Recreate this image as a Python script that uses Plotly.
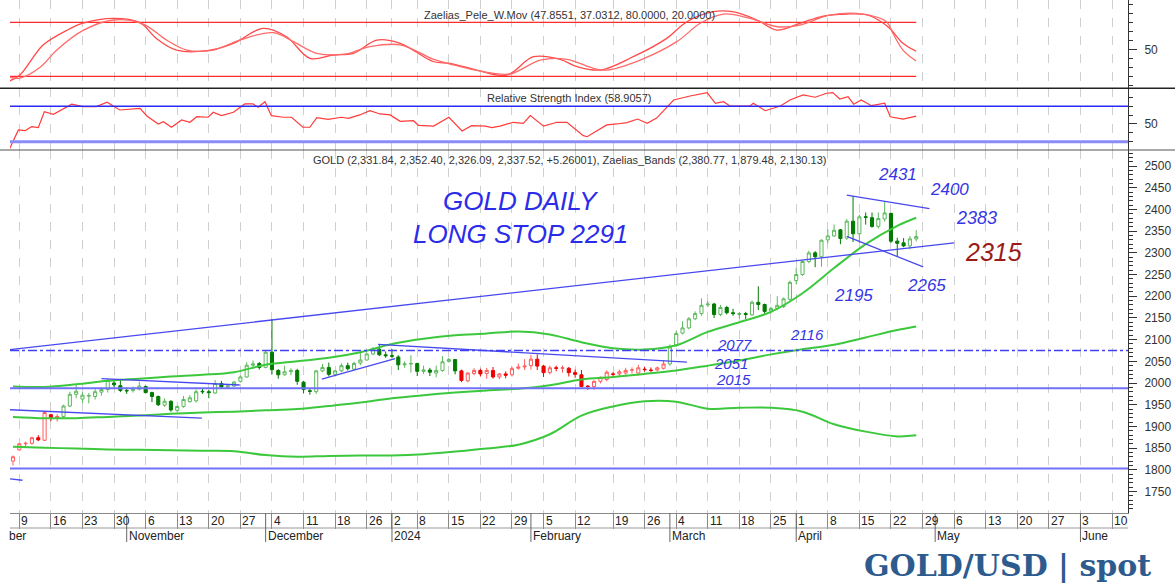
import plotly.graph_objects as go

# ---------------- data ----------------
# daily candles (trading-day index 0 = 6 Oct 2023 ... 143 = 26 Apr 2024)
opens = [1820,1846,1860,1861,1874,1868,1927,1920,1923,1947,1974,1963,1970,1969,1979,1985,2000,1994,1983,1983,
         1986,1992,1978,1969,1949,1958,1937,1946,1957,1959,1981,1980,1977,1999,1991,1993,2004,2014,2041,2045,
         2036,2071,2029,2019,2026,2029,2002,1982,1980,2028,2036,2020,2028,2040,2032,2046,2053,2067,2078,2065,
         2063,2060,2042,2044,2045,2027,2030,2023,2029,2050,2054,2028,2005,2022,2029,2022,2029,2014,2021,2019,
         2034,2037,2040,2055,2039,2024,2035,2034,2034,2024,2019,1993,1992,2004,2008,2021,2021,2023,2030,2023,
         2032,2030,2030,2034,2044,2087,2115,2127,2148,2160,2180,2182,2158,2174,2162,2158,2160,2157,2186,2181,
         2166,2172,2176,2193,2236,2250,2280,2300,2291,2330,2339,2353,2334,2373,2344,2383,2381,2361,2378,2391,
         2327,2323,2316,2331.84]
highs = [1833,1862,1865,1876,1880,1934,1929,1928,1950,1980,1997,1979,1977,1989,1990,2009,2009,2007,1990,1992,
         2003,1994,1980,1971,1965,1960,1948,1970,1972,1985,1987,1984,2007,2005,1997,2005,2018,2048,2052,2048,
         2075,2148,2032,2040,2034,2033,2005,1988,2030,2044,2047,2030,2045,2047,2049,2070,2070,2083,2088,2073,
         2078,2064,2050,2064,2047,2040,2035,2040,2062,2058,2055,2031,2025,2034,2033,2035,2037,2023,2027,2038,
         2045,2055,2065,2066,2042,2040,2040,2040,2037,2031,2030,1995,2006,2015,2029,2025,2031,2035,2036,2042,
         2037,2036,2038,2052,2089,2120,2142,2152,2165,2195,2189,2185,2180,2178,2171,2164,2164,2190,2223,2183,
         2176,2200,2197,2236,2266,2283,2305,2304,2331,2354,2365,2355,2378,2431,2388,2393,2393,2393,2418,2392,
         2335,2334,2339,2352.40]
lows = [1810,1844,1854,1858,1866,1867,1912,1911,1920,1945,1965,1954,1953,1962,1971,1978,1990,1979,1975,1978,
        1983,1976,1956,1947,1945,1934,1932,1943,1955,1955,1975,1965,1975,1988,1989,1991,2001,2012,2035,2031,
        2034,2020,2010,2017,2018,1996,1976,1973,1975,2025,2015,2015,2025,2029,2029,2041,2052,2064,2062,2058,
        2057,2030,2035,2024,2016,2021,2016,2013,2026,2047,2020,2002,2002,2018,2015,2010,2010,2009,2011,2015,
        2031,2030,2031,2030,2014,2020,2027,2024,2015,2012,1990,1984,1985,1999,2004,2014,2016,2019,2022,2017,
        2026,2025,2027,2031,2040,2083,2112,2124,2145,2155,2175,2150,2154,2158,2155,2149,2147,2155,2168,2157,
        2160,2168,2173,2190,2228,2247,2276,2267,2268,2322,2337,2320,2330,2325,2323,2365,2358,2356,2372,2323,
        2291,2313,2308,2326.09]
closes = [1830,1860,1861,1874,1869,1932,1920,1923,1947,1974,1981,1972,1971,1980,1985,2006,1996,1983,1982,1985,
          1993,1978,1969,1950,1958,1938,1946,1962,1966,1980,1980,1978,1999,1991,1993,2002,2014,2041,2044,2036,
          2071,2031,2019,2026,2029,2004,1985,1981,2028,2036,2020,2028,2040,2033,2045,2053,2067,2078,2065,2063,
          2062,2042,2044,2045,2027,2030,2025,2029,2049,2054,2028,2006,2023,2029,2021,2029,2014,2021,2018,2033,
          2037,2039,2055,2039,2024,2035,2034,2035,2024,2020,1992,1992,2004,2013,2025,2020,2026,2029,2030,2035,
          2031,2029,2035,2044,2083,2114,2127,2148,2160,2179,2182,2158,2174,2162,2160,2160,2158,2186,2181,2165,
          2172,2179,2194,2232,2250,2280,2300,2291,2329,2339,2352,2333,2373,2344,2383,2382,2361,2379,2392,2327,
          2322,2316,2332.26,2337.52]
# colour regime of each candle: 'r' = red (bearish regime), 'g' = green
regime = "rrrrrrrr" + "g" * 63 + "r" * 33 + "g" * 40

# Zaelias bands (sampled every few days)
band_idx = [0,5,10,15,20,25,30,35,40,45,50,55,60,65,70,75,80,85,90,95,100,105,110,115,120,125,130,135,140,143]
band_upper = [1992,1991,1997,2005,2010,2015,2019,2025,2042,2050,2058,2071,2090,2102,2110,2114,2119,2112,2094,2080,
              2077,2087,2118,2140,2164,2207,2265,2320,2362,2380.77]
band_mid = [1922,1919,1919,1922,1925,1929,1932,1934,1937,1940,1947,1955,1965,1972,1978,1983,1987,1995,2008,2014,
            2021,2029,2040,2052,2066,2078,2088,2105,2122,2130.13]
band_lower = [1853,1851,1849,1847,1846,1845,1844,1843,1834,1830,1832,1833,1833,1836,1842,1849,1858,1882,1925,1946,
              1958,1957,1941,1943,1943,1934,1905,1888,1877,1879.48]

# Zaelias_Pele_W.Mov (two lines)
wmov1_idx = [-0.5,1.1,4.8,8.5,11.1,15.9,20.1,22.7,25.9,30.7,34.9,39.6,43.3,47,50.7,53.9,57.6,61.3,66.6,69.2,73.4,
             78.2,82.4,86.6,89.3,93,98.2,103.5,106.7,110.9,114.1,117.8,120.9,124.6,128.3,132,135.1,137.2,138.8,140.9,143]
wmov1 = [15,21.5,55,71,79,84.4,79.6,62,49,48.5,56.7,73.3,64,40,43.7,45.6,60.3,56.7,36.2,34.4,27,
         21.4,41.8,38.9,30.7,27,41.8,62.2,80.7,91.8,91.5,82.6,71.4,78.9,87,89.2,88.5,81.8,73.3,56.7,47.8551]
wmov2_idx = [-0.5,1.1,4.3,6.9,11.1,15.9,20.6,24.3,27.5,31.7,35.9,41.2,44.4,48.1,52.8,56.5,61.3,66.6,69.2,74.5,78.7,
             83.5,87.7,91.9,94,99.3,105.1,108.8,112.5,116.7,121,124.6,129.3,134.6,138.3,139.3,140.9,143]
wmov2 = [19,18,30,49,71,82.6,78.1,60.3,49.2,49.2,60.3,68.5,58.5,45.6,45,52.9,55,38.9,33.7,25.1,22.6,
         38.1,38.9,28.9,27,38.1,58.5,78.9,89.2,84.4,75.1,77,88.1,89.2,80.7,67.8,49.2,37.0312]

# Relative Strength Index
rsi_idx = [-0.5,0.85,1.9,2.95,4,4.96,6.4,9.3,11.1,13.2,14.9,16.9,20.1,21.2,23,23.8,25.1,26.7,28,29.1,30.9,31.7,33,
           34.9,36.7,38,38.8,39.9,40.9,42.8,44.1,45.9,47,48.1,49.9,52,53.1,54.9,56.5,58.1,59.7,61.3,63.4,64.2,66.6,
           69,71.1,72.6,74.8,75.8,77.1,79.2,80.8,81.9,84,86.1,87.7,90.3,90.9,94,95.6,97.2,98.9,100.4,101.9,103.5,
           104.6,107.2,109.9,111.2,112.5,113.5,116.7,117.2,119.1,121.5,123,125.1,127,128.8,129.8,130.9,132.2,133.1,
           134.3,135.9,138,138.9,140.9,143]
rsi = [22.5,43.2,42.4,47,45.8,63.9,61,72.3,69.6,69.6,74.5,65.8,67.7,59,50,52.6,46.3,54.5,51.9,58.2,57.6,63.2,59.4,
       63.2,72.6,72.6,68.9,75.2,59.4,57.6,57.6,46.3,46.3,57.1,55.3,57.6,56.4,60.2,65,61.3,60.2,53,53.7,48.5,47.6,
       57.6,42.1,48.1,47.6,45.8,47.6,51.9,50.7,59.4,47.6,51.9,51.9,36.8,35.6,48.9,50,51.5,55.6,50.7,56.7,68.9,
       77.1,81.6,85.4,73.4,75.2,70.3,70.3,73.4,65,70.3,77.1,82.8,80.2,84.7,85.4,78.2,80.8,72.3,
       77.1,70.7,73.4,58.2,55.6,58.9057]

# hand-drawn trend lines: (start index, start price, end index, end price)
trend_lines = [
    (-0.5, 2077, 149, 2323),     # long rising support
    (-0.5, 1938.5, 29.9, 1919),  # early falling line
    (14, 2010, 35.9, 1995.5),
    (48.9, 2009, 60.5, 2056),
    (57.8, 2089, 106.7, 2048),
    (132, 2433, 145.1, 2402),    # triangle top
    (132, 2338, 144.1, 2267.5),  # triangle bottom
    (-0.5, 1779, 1.5, 1776),
]
level_dashdot = 2075
levels_solid = [1988, 1803]

# hand-written notes: (text, index, price, size, colour)
notes = [("GOLD DAILY", 80.3, 2419, 26, "#2b2bea"), ("LONG STOP 2291", 80.3, 2343, 26, "#2b2bea"),
         ("2431", 140.1, 2481, 17, "#3535e6"), ("2400", 148.2, 2447, 17, "#3535e6"),
         ("2383", 152.6, 2380, 18, "#3535e6"), ("2315", 155.2, 2301, 25, "#9a1b1b"),
         ("2265", 144.7, 2225, 17, "#3535e6"), ("2195", 133.0, 2202, 17, "#3535e6"),
         ("2116", 125.7, 2112, 15, "#3535e6"), ("2077", 114.3, 2088, 15, "#3535e6"),
         ("2051", 113.7, 2045, 15, "#3535e6"), ("2015", 114.0, 2008, 15, "#3535e6")]

# date axis labels
week_idx = [1,6,11,16,21,26,31,36,41,46,51,56,60,64,69,74,79,84,89,95,100,105,110,115,120,124,129,134,139,144,
            149,154,159,164,169,174]
week_lbl = ['9','16','23','30','6','13','20','27','4','11','18','26','2','8','15','22','29','5','12','19','26',
            '4','11','18','25','1','8','15','22','29','6','13','20','27','3','10']
month_idx = [18,40,60,82,104,124,146,169]
month_lbl = ['November','December','2024','February','March','April','May','June']

# ---------------- figure ----------------
W, H = 1175, 587
XL, XR = 10, 1128
def py(y):  # pixel row -> paper fraction
    return 1 - y / H
X_RANGE = [-0.475, 176.53]

fig = go.Figure()
days = list(range(len(opens)))

def pick(lst, flag):
    return [lst[k] for k in days if regime[k] == flag]

styles = {'g': ('#5cb85c', '#007a00'), 'r': ('#ff5a5a', '#ee0000')}
for flag in ['g', 'r']:
    up_col, dn_col = styles[flag]
    fig.add_trace(go.Candlestick(
        x=pick(days, flag), open=pick(opens, flag), high=pick(highs, flag),
        low=pick(lows, flag), close=pick(closes, flag),
        increasing=dict(line=dict(color=up_col, width=1), fillcolor='white'),
        decreasing=dict(line=dict(color=dn_col, width=1), fillcolor=dn_col),
        whiskerwidth=0, showlegend=False, hoverinfo='skip', xaxis='x', yaxis='y'))

for vals in (band_upper, band_mid, band_lower):
    fig.add_trace(go.Scatter(x=band_idx, y=vals, mode='lines', line=dict(color='#3cc83c', width=2, shape='spline'),
                             showlegend=False, hoverinfo='skip', xaxis='x', yaxis='y'))

for (x0, y0, x1, y1) in trend_lines:
    fig.add_trace(go.Scatter(x=[x0, x1], y=[y0, y1], mode='lines', line=dict(color='#4848f0', width=1.3),
                             showlegend=False, hoverinfo='skip', xaxis='x', yaxis='y'))

# top panel
fig.add_trace(go.Scatter(x=[-0.475, 143], y=[80, 80], mode='lines', line=dict(color='#ff2a2a', width=1.3),
                         showlegend=False, hoverinfo='skip', xaxis='x', yaxis='y3'))
fig.add_trace(go.Scatter(x=[-0.475, 143], y=[20, 20], mode='lines', line=dict(color='#ff2a2a', width=1.3),
                         showlegend=False, hoverinfo='skip', xaxis='x', yaxis='y3'))
fig.add_trace(go.Scatter(x=wmov1_idx, y=wmov1, mode='lines', line=dict(color='#ff4a4a', width=1.3, shape='spline'),
                         showlegend=False, hoverinfo='skip', xaxis='x', yaxis='y3'))
fig.add_trace(go.Scatter(x=wmov2_idx, y=wmov2, mode='lines', line=dict(color='#ff6a6a', width=1.3, shape='spline'),
                         showlegend=False, hoverinfo='skip', xaxis='x', yaxis='y3'))
# RSI panel
fig.add_trace(go.Scatter(x=rsi_idx, y=rsi, mode='lines', line=dict(color='#ff3a3a', width=1.2),
                         showlegend=False, hoverinfo='skip', xaxis='x', yaxis='y2'))

shapes = []
# horizontal levels in price panel
shapes.append(dict(type='line', xref='x domain', yref='y', x0=0, x1=1, y0=level_dashdot, y1=level_dashdot,
                   line=dict(color='#4040f0', width=1.3, dash='dashdot')))
for lv in levels_solid:
    shapes.append(dict(type='line', xref='x domain', yref='y', x0=0, x1=1, y0=lv, y1=lv,
                       line=dict(color='#7070f8', width=1.8)))
# RSI levels
shapes.append(dict(type='line', xref='x domain', yref='y2', x0=0, x1=1, y0=70, y1=70,
                   line=dict(color='#2a2af5', width=1.3)))
shapes.append(dict(type='line', xref='x domain', yref='y2', x0=0, x1=1, y0=30, y1=30,
                   line=dict(color='#8c8cf8', width=3)))
# panel separators
shapes.append(dict(type='line', xref='paper', yref='paper', x0=0, x1=1, y0=py(88.3), y1=py(88.3),
                   line=dict(color='#222', width=1.5)))
shapes.append(dict(type='line', xref='paper', yref='paper', x0=0, x1=1, y0=py(150), y1=py(150),
                   line=dict(color='#555', width=1.2)))
# date row line and month separators
shapes.append(dict(type='line', xref='paper', yref='paper', x0=XL / W, x1=XR / W, y0=py(528), y1=py(528),
                   line=dict(color='#999', width=1)))
for m in month_idx:
    shapes.append(dict(type='line', xref='x', yref='paper', x0=m, x1=m, y0=py(542), y1=py(513),
                       line=dict(color='#666', width=1)))

annotations = []
tfont = dict(family='Liberation Sans, Arial', size=11, color='#333')
cx = (XL + XR) / 2 / W
annotations.append(dict(text='Zaelias_Pele_W.Mov (47.8551, 37.0312, 80.0000, 20.0000)', xref='paper', yref='paper',
                        x=cx, y=py(15), xanchor='center', yanchor='middle', showarrow=False, font=tfont))
annotations.append(dict(text='Relative Strength Index (58.9057)', xref='paper', yref='paper',
                        x=cx, y=py(98), xanchor='center', yanchor='middle', showarrow=False, font=tfont))
annotations.append(dict(text='GOLD (2,331.84, 2,352.40, 2,326.09, 2,337.52, +5.26001), Zaelias_Bands (2,380.77, 1,879.48, 2,130.13)',
                        xref='paper', yref='paper', x=cx, y=py(160), xanchor='center', yanchor='middle',
                        showarrow=False, font=tfont))
dfont = dict(family='Liberation Sans, Arial', size=12, color='#222')
for wi, wl in zip(week_idx, week_lbl):
    annotations.append(dict(text=wl, xref='x', yref='paper', x=wi, y=py(521), xanchor='left', yanchor='middle',
                            xshift=0, showarrow=False, font=dfont))
for mi, ml in zip(month_idx, month_lbl):
    annotations.append(dict(text=ml, xref='x', yref='paper', x=mi, y=py(536), xanchor='left', yanchor='middle',
                            xshift=0, showarrow=False, font=dfont))
annotations.append(dict(text='ber', xref='paper', yref='paper', x=XL / W, y=py(536), xanchor='left',
                        yanchor='middle', xshift=-3, showarrow=False, font=dfont))
for (t, xi, pv, sz, col) in notes:
    annotations.append(dict(text=t, xref='x', yref='y', x=xi, y=pv, xanchor='center', yanchor='middle',
                            showarrow=False,
                            font=dict(family='Liberation Sans, Arial', size=sz, color=col, style='italic')))
annotations.append(dict(text='<b>GOLD/USD | spot</b>', xref='paper', yref='paper', x=1007 / W, y=py(565),
                        xanchor='center', yanchor='middle', showarrow=False,
                        font=dict(family='DejaVu Serif', size=30, color='#2d5b8e')))

axfont = dict(family='Liberation Sans, Arial', size=12, color='#333')
common_y = dict(side='right', anchor='x', showgrid=False, zeroline=False, showline=True, linecolor='#333',
                linewidth=1, ticks='outside', ticklen=8, tickcolor='#333', tickfont=axfont, fixedrange=True,
                ticklabelstandoff=5, automargin=False)

fig.update_layout(
    width=W, height=H, margin=dict(l=0, r=0, t=0, b=0, pad=0, autoexpand=False), autosize=False,
    paper_bgcolor='white', plot_bgcolor='white', showlegend=False,
    xaxis=dict(domain=[XL / W, XR / W], range=X_RANGE, anchor='y', tickvals=week_idx, showticklabels=False,
               ticks='outside', ticklen=15, tickcolor='#888', showgrid=True, gridcolor='#cfcfcf', griddash='dash',
               gridwidth=1, zeroline=False, showline=True, linecolor='#888', automargin=False,
               rangeslider=dict(visible=False)),
    yaxis=dict(domain=[py(513), py(150)], range=[1700.5, 2537], dtick=50, tick0=0,
               minor=dict(dtick=10, tick0=0, ticklen=4, ticks='outside', tickcolor='#333'), **common_y),
    yaxis2=dict(domain=[py(150), py(88.3)], range=[20.6, 90.3], tickvals=[50],
                minor=dict(dtick=10, tick0=0, ticklen=4, ticks='outside', tickcolor='#333'), **common_y),
    yaxis3=dict(domain=[py(88.3), 1], range=[6.7, 104.8], tickvals=[50],
                minor=dict(dtick=10, tick0=0, ticklen=4, ticks='outside', tickcolor='#333'), **common_y),
    shapes=shapes, annotations=annotations,
)

fig.write_html("out.html", config={'displayModeBar': False, 'responsive': False},
               post_script="document.body.style.margin='0';document.body.style.overflow='hidden';")
